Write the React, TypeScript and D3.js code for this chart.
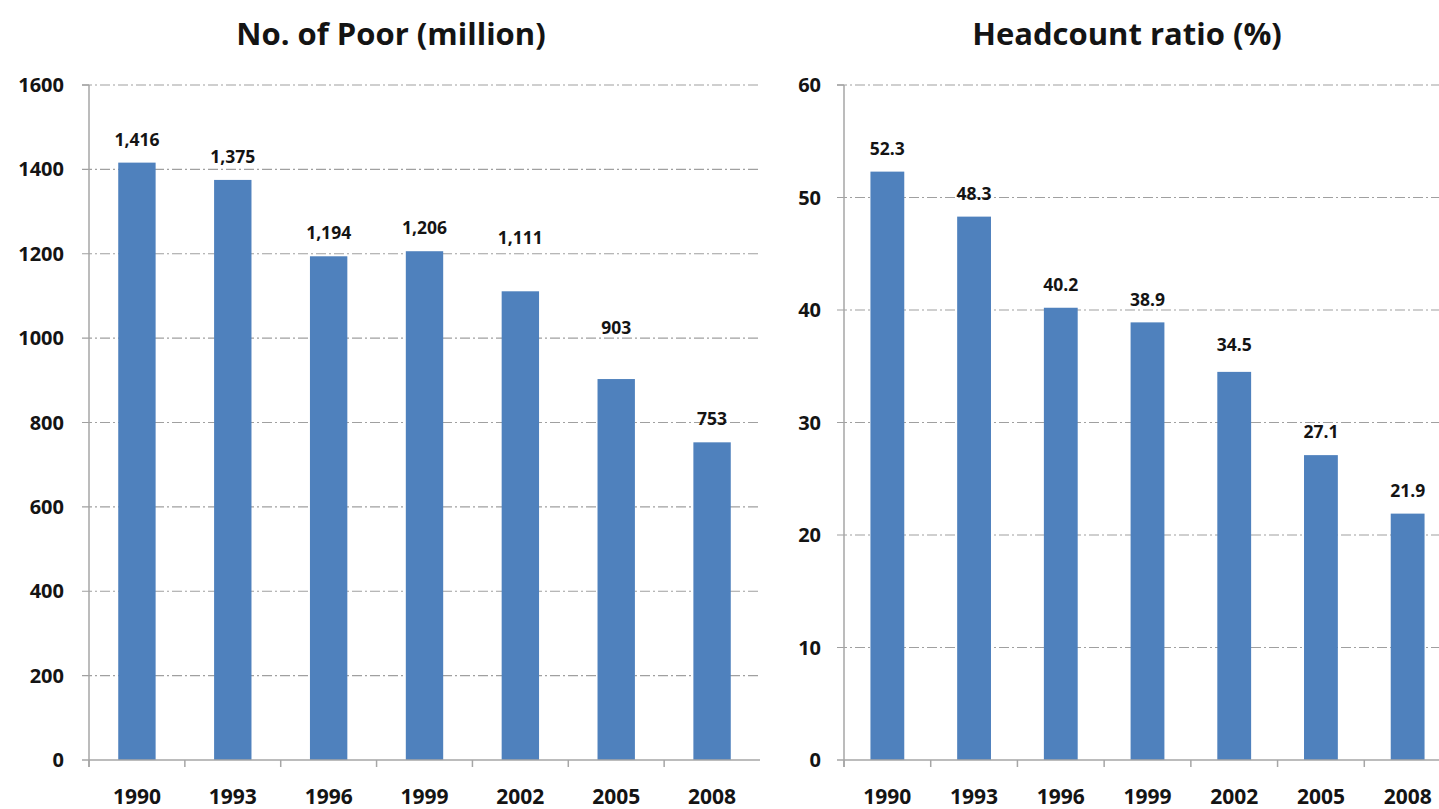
import React from "react";
import * as d3 from "d3";

const years = ["1990", "1993", "1996", "1999", "2002", "2005", "2008"];
const poorMillion = [1416, 1375, 1194, 1206, 1111, 903, 753];
const poorLabels = ["1,416", "1,375", "1,194", "1,206", "1,111", "903", "753"];
const headcount = [52.3, 48.3, 40.2, 38.9, 34.5, 27.1, 21.9];
const headcountLabels = ["52.3", "48.3", "40.2", "38.9", "34.5", "27.1", "21.9"];
const poorTicks = [0, 200, 400, 600, 800, 1000, 1200, 1400, 1600];
const headcountTicks = [0, 10, 20, 30, 40, 50, 60];

// extra label lift (px) for manually placed labels in the original
const poorLabelLift = [0, 0, 0, 0, 30, 28, 0];
const headLabelLift = [0, 0, 0, 0, 4, 0, 0];

const W = 1439;
const H = 809;
const FONT = "'Open Sans', 'Liberation Sans', sans-serif";
const BAR = "#4f81bd";
const GRID = "#a0a0a0";
const AXIS = "#a6a6a6";
const TEXT = "#141414";

type PanelProps = {
  title: string;
  titleX: number;
  x0: number;
  x1: number;
  values: number[];
  labels: string[];
  ticks: number[];
  maxV: number;
  lift: number[];
  tickLabelRight: number;
};

const TOP = 85;
const BOTTOM = 760;

function Panel(p: PanelProps) {
  const x = d3.scaleBand<string>().domain(years).range([p.x0, p.x1]).paddingInner(0).paddingOuter(0);
  const y = d3.scaleLinear().domain([0, p.maxV]).range([BOTTOM, TOP]);
  const bw = x.bandwidth() * 0.39;
  const gridRight = Math.min(p.x1, W);
  return (
    <g>
      <text x={p.titleX} y={45} textAnchor="middle" fontFamily={FONT} fontWeight={700} fontSize={31} fill={TEXT}>
        {p.title}
      </text>
      {p.ticks.map((t) => (
        <g key={t}>
          {t > 0 && (
            <line
              x1={p.x0 - 7}
              x2={gridRight}
              y1={y(t)}
              y2={y(t)}
              stroke={GRID}
              strokeWidth={1.2}
              strokeDasharray="10,3,2,3"
            />
          )}
          <text
            x={p.tickLabelRight}
            y={y(t)}
            dy="0.35em"
            textAnchor="end"
            fontFamily={FONT}
            fontWeight={700}
            fontSize={20}
            fill={TEXT}
          >
            {t}
          </text>
        </g>
      ))}
      {years.map((yr, i) => (
        <g key={yr}>
          <rect
            x={(x(yr) as number) + x.bandwidth() / 2 - bw / 2}
            y={y(p.values[i])}
            width={bw}
            height={BOTTOM - y(p.values[i])}
            fill={BAR}
          />
          <text
            x={(x(yr) as number) + x.bandwidth() / 2}
            y={y(p.values[i]) - 23 - p.lift[i]}
            dy="0.35em"
            textAnchor="middle"
            fontFamily={FONT}
            fontWeight={700}
            fontSize={17.5}
            fill={TEXT}
          >
            {p.labels[i]}
          </text>
          <text
            x={(x(yr) as number) + x.bandwidth() / 2}
            y={797}
            dy="0.35em"
            textAnchor="middle"
            fontFamily={FONT}
            fontWeight={700}
            fontSize={21}
            fill={TEXT}
          >
            {yr}
          </text>
        </g>
      ))}
      {years.map((yr) => (
        <line
          key={"t" + yr}
          x1={x(yr) as number}
          x2={x(yr) as number}
          y1={BOTTOM}
          y2={BOTTOM + 7}
          stroke={AXIS}
          strokeWidth={1.5}
        />
      ))}
      <line x1={p.x0} x2={p.x0} y1={TOP} y2={BOTTOM + 7} stroke={AXIS} strokeWidth={1.5} />
      <line x1={p.x0 - 7} x2={gridRight} y1={BOTTOM} y2={BOTTOM} stroke={AXIS} strokeWidth={1.5} />
      <line x1={p.x0 - 7} x2={p.x0} y1={TOP} y2={TOP} stroke={AXIS} strokeWidth={1.5} />
    </g>
  );
}

export default function App() {
  return (
    <svg
      width={W}
      height={H}
      style={{ position: "absolute", left: 0, top: 0, display: "block", background: "#ffffff" }}
    >
      <rect x={0} y={0} width={W} height={H} fill="#ffffff" />
      <Panel
        title="No. of Poor (million)"
        titleX={391}
        x0={89}
        x1={760}
        values={poorMillion}
        labels={poorLabels}
        ticks={poorTicks}
        maxV={1600}
        lift={poorLabelLift}
        tickLabelRight={64}
      />
      <Panel
        title="Headcount ratio (%)"
        titleX={1127}
        x0={844}
        x1={1451}
        values={headcount}
        labels={headcountLabels}
        ticks={headcountTicks}
        maxV={60}
        lift={headLabelLift}
        tickLabelRight={821}
      />
    </svg>
  );
}
